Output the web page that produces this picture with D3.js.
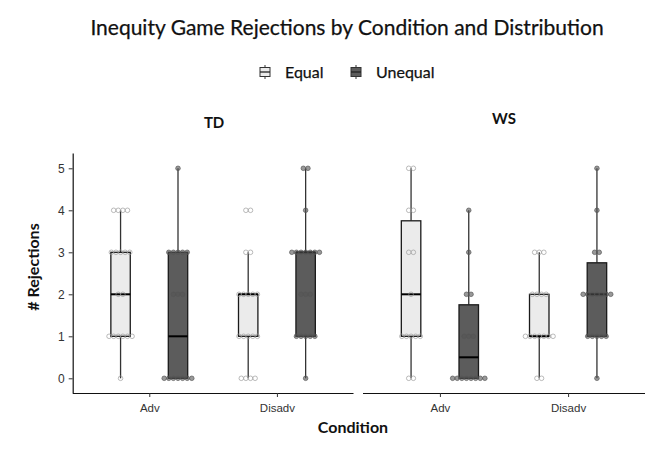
<!DOCTYPE html>
<html>
<head>
<meta charset="utf-8">
<script src="https://cdn.jsdelivr.net/npm/d3@7"></script>
<style>
  body { margin: 0; background: #fff; }
  svg { display: block; }
</style>
</head>
<body>
<svg id="chart" width="669" height="449"></svg>
<script>
// facets, categories, groups
const panels = ["TD", "WS"];
const conditions = ["Adv", "Disadv"];
const distributions = ["Equal", "Unequal"];
const yTicks = [0, 1, 2, 3, 4, 5];

// one entry per box, order: TD Adv Eq, TD Adv Uneq, TD Dis Eq, TD Dis Uneq, WS ...
const groupPanel = ["TD", "TD", "TD", "TD", "WS", "WS", "WS", "WS"];
const groupCondition = ["Adv", "Adv", "Disadv", "Disadv", "Adv", "Adv", "Disadv", "Disadv"];
const groupDist = ["Equal", "Unequal", "Equal", "Unequal", "Equal", "Unequal", "Equal", "Unequal"];
const whiskerLow = [0, 0, 0, 0, 0, 0, 0, 0];
const q1 = [1, 0, 1, 1, 1, 0, 1, 1];
const median = [2, 1, 2, 3, 2, 0.5, 1, 2];
const q3 = [3, 3, 2, 3, 3.75, 1.75, 2, 2.75];
const whiskerHigh = [4, 5, 3, 5, 5, 4, 3, 5];
// number of dots at 0,1,2,3,4,5 rejections
const dotCounts = [
  [1, 6, 2, 5, 4, 0],
  [7, 0, 3, 5, 0, 1],
  [4, 5, 5, 2, 2, 0],
  [1, 5, 3, 7, 1, 2],
  [2, 5, 1, 2, 2, 2],
  [8, 3, 2, 1, 1, 0],
  [2, 7, 4, 3, 0, 0],
  [1, 5, 7, 2, 1, 1]
];

const svg = d3.select("#chart");
const sans = "'Liberation Sans', Arial, sans-serif";
const titleFont = "Lato, 'Open Sans', sans-serif";

const fillColor = d3.scaleOrdinal().domain(distributions).range(["#ebebeb", "#5c5c5c"]);
const dotFill = d3.scaleOrdinal().domain(distributions).range(["none", "#555555"]);
const dotStroke = d3.scaleOrdinal().domain(distributions).range(["#9a9a9a", "#555555"]);

const y = d3.scaleLinear().domain([-0.35, 5.35]).range([393, 153.6]);

const panelRange = { TD: [72.7, 353.5], WS: [363, 645] };
const xScales = {};
panels.forEach(p => {
  xScales[p] = d3.scalePoint().domain(conditions).range(panelRange[p]).padding(0.6);
});

// title + legend (regular weight with a thin stroke, reads like a medium weight)
svg.append("text").attr("x", 347).attr("y", 35).attr("text-anchor", "middle")
  .style("font-family", titleFont).style("font-size", "21px")
  .style("fill", "#111").style("stroke", "#111").style("stroke-width", 0.25)
  .text("Inequity Game Rejections by Condition and Distribution");

const legendX = [265, 356];
distributions.forEach((d, i) => {
  const g = svg.append("g").attr("transform", "translate(" + legendX[i] + ",72)");
  g.append("line").attr("x1", 0).attr("x2", 0).attr("y1", -7).attr("y2", 7)
    .attr("stroke", "#333").attr("stroke-width", 1);
  g.append("rect").attr("x", -5).attr("y", -4.5).attr("width", 10).attr("height", 9)
    .attr("fill", fillColor(d)).attr("stroke", "#333").attr("stroke-width", 1);
  g.append("line").attr("x1", -5).attr("x2", 5).attr("y1", 0).attr("y2", 0)
    .attr("stroke", "#222").attr("stroke-width", 1.3);
  g.append("text").attr("x", 20).attr("y", 6).style("font-family", titleFont)
    .style("font-size", "16px").style("fill", "#111")
    .style("stroke", "#111").style("stroke-width", 0.25).text(d);
});

// strip labels
const stripY = { TD: 128, WS: 124 };
panels.forEach(p => {
  const r = panelRange[p];
  svg.append("text").attr("x", (r[0] + r[1]) / 2 + (p === "TD" ? 1 : 0)).attr("y", stripY[p])
    .attr("text-anchor", "middle").style("font-family", titleFont)
    .style("font-size", "15px").style("font-weight", "bold").style("fill", "#111").text(p);
});

// axes
panels.forEach((p, pi) => {
  const x = xScales[p];
  const ax = svg.append("g").attr("transform", "translate(0,393)")
    .call(d3.axisBottom(x).tickSize(4).tickSizeOuter(0));
  ax.select(".domain").attr("d", "M" + panelRange[p][0] + ",0.5H" + panelRange[p][1])
    .attr("stroke", "#111").attr("stroke-width", 1.2);
  ax.selectAll(".tick line").attr("stroke", "#333");
  ax.selectAll(".tick text").attr("dy", "1.05em").style("font-family", sans)
    .style("font-size", "11.5px").style("fill", "#333");
  if (pi === 0) {
    const ay = svg.append("g").attr("transform", "translate(" + panelRange[p][0] + ",0)")
      .call(d3.axisLeft(y).tickValues(yTicks).tickFormat(d3.format("d"))
        .tickSize(4).tickSizeOuter(0).tickPadding(4));
    ay.select(".domain").attr("d", "M0.5,153.6V393").attr("stroke", "#111").attr("stroke-width", 1.2);
    ay.selectAll(".tick line").attr("stroke", "#333");
    ay.selectAll(".tick text").style("font-family", sans)
      .style("font-size", "12px").style("fill", "#333");
  }
});

svg.append("text").attr("transform", "translate(39,267) rotate(-90)")
  .attr("text-anchor", "middle").style("font-family", titleFont)
  .style("font-size", "16px").style("font-weight", "bold").style("fill", "#111")
  .text("# Rejections");
svg.append("text").attr("x", 353).attr("y", 433).attr("text-anchor", "middle")
  .style("font-family", titleFont).style("font-size", "16px").style("font-weight", "bold")
  .style("fill", "#111").text("Condition");

// boxes
const dodge = 0.225, boxW = 0.152, dotR = 2.3;
groupPanel.forEach((p, i) => {
  const x = xScales[p];
  const step = x.step();
  const cx = x(groupCondition[i]) + (groupDist[i] === "Equal" ? -1 : 1) * dodge * step;
  const w = boxW * step;
  const g = svg.append("g");
  g.append("line").attr("x1", cx).attr("x2", cx).attr("y1", y(whiskerLow[i])).attr("y2", y(q1[i]))
    .attr("stroke", "#333").attr("stroke-width", 1.3);
  g.append("line").attr("x1", cx).attr("x2", cx).attr("y1", y(q3[i])).attr("y2", y(whiskerHigh[i]))
    .attr("stroke", "#333").attr("stroke-width", 1.3);
  g.append("rect").attr("x", cx - w / 2).attr("y", y(q3[i]))
    .attr("width", w).attr("height", y(q1[i]) - y(q3[i]))
    .attr("fill", fillColor(groupDist[i])).attr("stroke", "#1a1a1a").attr("stroke-width", 1.3);
  g.append("line").attr("x1", cx - w / 2).attr("x2", cx + w / 2)
    .attr("y1", y(median[i])).attr("y2", y(median[i]))
    .attr("stroke", "#000").attr("stroke-width", 2);

  // centred dot stacks
  const dots = [];
  dotCounts[i].forEach((n, v) => {
    for (let k = 0; k < n; k++) dots.push({ v: v, off: (k - (n - 1) / 2) * dotR * 2 });
  });
  g.selectAll("circle").data(dots).join("circle")
    .attr("cx", d => cx + d.off).attr("cy", d => y(d.v)).attr("r", dotR)
    .attr("fill", dotFill(groupDist[i])).attr("fill-opacity", 0.6)
    .attr("stroke", dotStroke(groupDist[i])).attr("stroke-opacity", 0.75).attr("stroke-width", 0.9);
});
</script>
</body>
</html>
